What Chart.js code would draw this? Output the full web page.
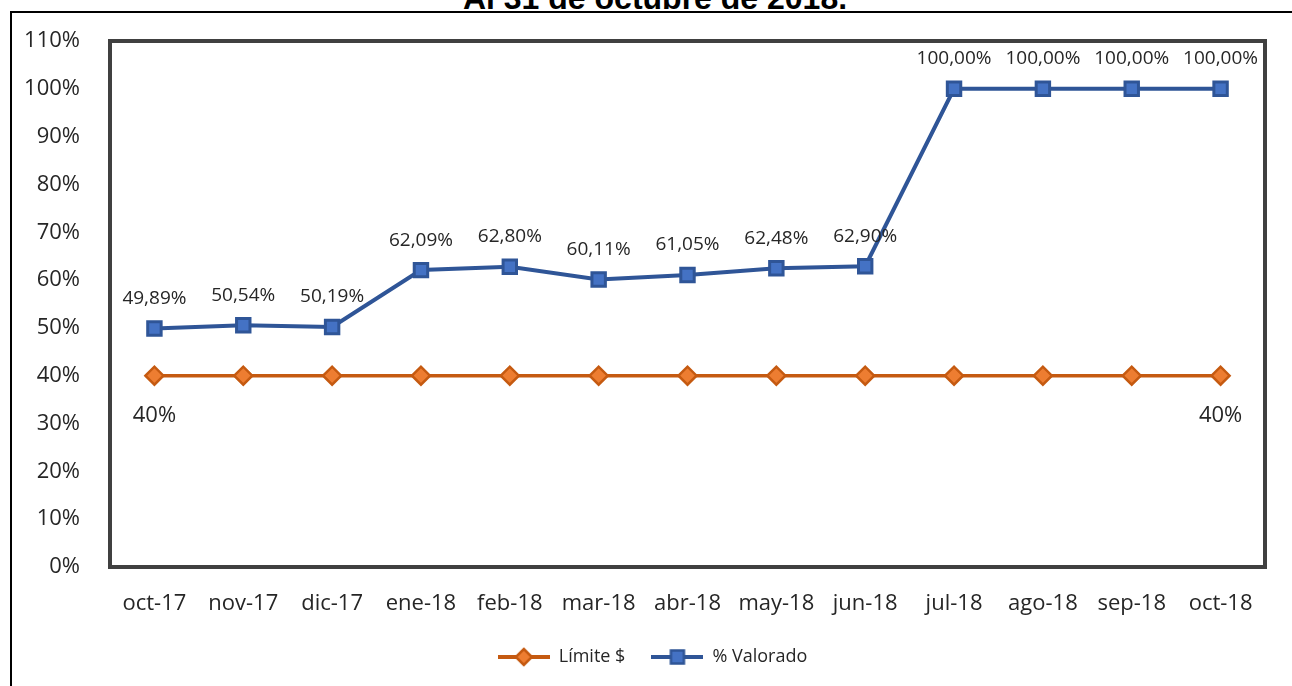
<!DOCTYPE html>
<html>
<head>
<meta charset="utf-8">
<script src="https://cdn.jsdelivr.net/npm/chart.js@4.4.1/dist/chart.umd.min.js"></script>
<style>
  html, body { margin: 0; padding: 0; background: #fff; width: 1292px; height: 686px; overflow: hidden; }
  #frame { position: absolute; left: 10px; top: 11px; width: 1400px; height: 800px;
           border-top: 2px solid #000; border-left: 2px solid #000; }
  #titulo { position: absolute; left: 0; width: 1310px; top: -18px; text-align: center;
            font: bold 32px "Liberation Sans", Arial, sans-serif; line-height: 32px; color: #000; }
  #wrap { position: absolute; left: 0; top: 0; width: 1292px; height: 686px; }
</style>
</head>
<body>
<div id="frame"></div>
<div id="titulo">Al 31 de octubre de 2018.</div>
<div id="wrap"><canvas id="chart-1" width="1292" height="686"></canvas></div>
<script>
// datos
const meses = ['oct-17', 'nov-17', 'dic-17', 'ene-18', 'feb-18', 'mar-18', 'abr-18',
               'may-18', 'jun-18', 'jul-18', 'ago-18', 'sep-18', 'oct-18'];
const limite = [40, 40, 40, 40, 40, 40, 40, 40, 40, 40, 40, 40, 40];
const valorado = [49.89, 50.54, 50.19, 62.09, 62.80, 60.11, 61.05, 62.48, 62.90, 100, 100, 100, 100];
const limiteConEtiqueta = [0, 12]; // solo primero y ultimo llevan "40%"
const yTicks = [0, 10, 20, 30, 40, 50, 60, 70, 80, 90, 100, 110];

const FONT = '"Open Sans", "Noto Sans", sans-serif';
const NARANJA = '#C55A11', NARANJA_CLARO = '#ED7D31';
const AZUL = '#2F5597', AZUL_CLARO = '#4472C4';

// icono de leyenda: linea con marcador
function iconoLeyenda(lineColor, fill, forma) {
  const c = document.createElement('canvas');
  c.width = 52; c.height = 20;
  const g = c.getContext('2d');
  g.strokeStyle = lineColor; g.lineWidth = 4;
  g.beginPath(); g.moveTo(0, 10); g.lineTo(52, 10); g.stroke();
  g.fillStyle = fill; g.lineWidth = 2.5;
  g.beginPath();
  if (forma === 'diamond') {
    g.moveTo(26, 2); g.lineTo(34, 10); g.lineTo(26, 18); g.lineTo(18, 10); g.closePath();
  } else {
    g.rect(19.5, 3.5, 13, 13);
  }
  g.fill(); g.stroke();
  return c;
}

// etiquetas de datos (sin plugin externo)
const etiquetas = {
  id: 'etiquetas',
  afterDatasetsDraw(chart) {
    const ctx = chart.ctx;
    ctx.save();
    ctx.textAlign = 'center';
    ctx.textBaseline = 'middle';
    ctx.fillStyle = '#262626';
    chart.data.datasets.forEach((ds, i) => {
      const meta = chart.getDatasetMeta(i);
      meta.data.forEach((pt, j) => {
        if (ds.etiqueta === 'arriba') {
          ctx.font = '19px ' + FONT;
          ctx.fillText(ds.data[j].toFixed(2).replace('.', ',') + '%', pt.x, pt.y - 30);
        } else if (limiteConEtiqueta.includes(j)) {
          ctx.font = '22px ' + FONT;
          ctx.fillText(ds.data[j] + '%', pt.x, pt.y + 40);
        }
      });
    });
    ctx.restore();
  }
};

// borde del area de trazado + leyenda un poco a la derecha
const marco = {
  id: 'marco',
  afterLayout(chart) {
    if (chart.legend) { chart.legend.left += 20; chart.legend.right += 20; }
  },
  beforeDatasetsDraw(chart) {
    const a = chart.chartArea, ctx = chart.ctx;
    ctx.save();
    ctx.strokeStyle = '#404040';
    ctx.lineWidth = 4;
    ctx.strokeRect(a.left, a.top, a.right - a.left, a.bottom - a.top);
    ctx.restore();
  }
};

const ctx1 = document.getElementById('chart-1');
new Chart(ctx1, {
  type: 'line',
  data: {
    labels: meses,
    datasets: [{
      label: 'Límite $',
      data: limite,
      borderColor: NARANJA,
      borderWidth: 3.5,
      pointStyle: 'rectRot',
      pointRadius: 9,
      pointBackgroundColor: NARANJA_CLARO,
      pointBorderColor: NARANJA,
      pointBorderWidth: 2.5,
      etiqueta: 'abajo'
    }, {
      label: '% Valorado',
      data: valorado,
      borderColor: AZUL,
      borderWidth: 4,
      pointStyle: 'rect',
      pointRadius: 9.5,
      pointBackgroundColor: AZUL_CLARO,
      pointBorderColor: AZUL,
      pointBorderWidth: 3,
      etiqueta: 'arriba'
    }]
  },
  options: {
    responsive: false,
    animation: false,
    layout: { padding: { left: 0, top: 41, right: 27, bottom: 10 } },
    plugins: {
      legend: {
        position: 'bottom',
        labels: {
          usePointStyle: true,
          pointStyleWidth: 52,
          boxHeight: 20,
          padding: 26,
          color: '#262626',
          font: { family: FONT, size: 18 },
          generateLabels: function(chart) {
            return [
              { text: 'Límite $', pointStyle: iconoLeyenda(NARANJA, NARANJA_CLARO, 'diamond'),
                fontColor: '#262626', datasetIndex: 0, lineWidth: 0, strokeStyle: 'transparent' },
              { text: '% Valorado', pointStyle: iconoLeyenda(AZUL, AZUL_CLARO, 'square'),
                fontColor: '#262626', datasetIndex: 1, lineWidth: 0, strokeStyle: 'transparent' }
            ];
          }
        }
      },
      tooltip: { enabled: false }
    },
    scales: {
      x: {
        offset: true,
        grid: { display: false },
        border: { display: false },
        ticks: { color: '#262626', padding: 16, maxRotation: 0, font: { family: FONT, size: 22 } },
        afterFit: function(s) { s.height = 55; }
      },
      y: {
        min: 0,
        max: 110,
        afterBuildTicks: function(s) { s.ticks = yTicks.map(v => ({ value: v })); },
        grid: { display: false },
        border: { display: false },
        ticks: { color: '#262626', padding: 22, font: { family: FONT, size: 22 },
                 callback: v => v + '%' },
        afterFit: function(s) { s.width = 110; }
      }
    }
  },
  plugins: [etiquetas, marco]
});
</script>
</body>
</html>
